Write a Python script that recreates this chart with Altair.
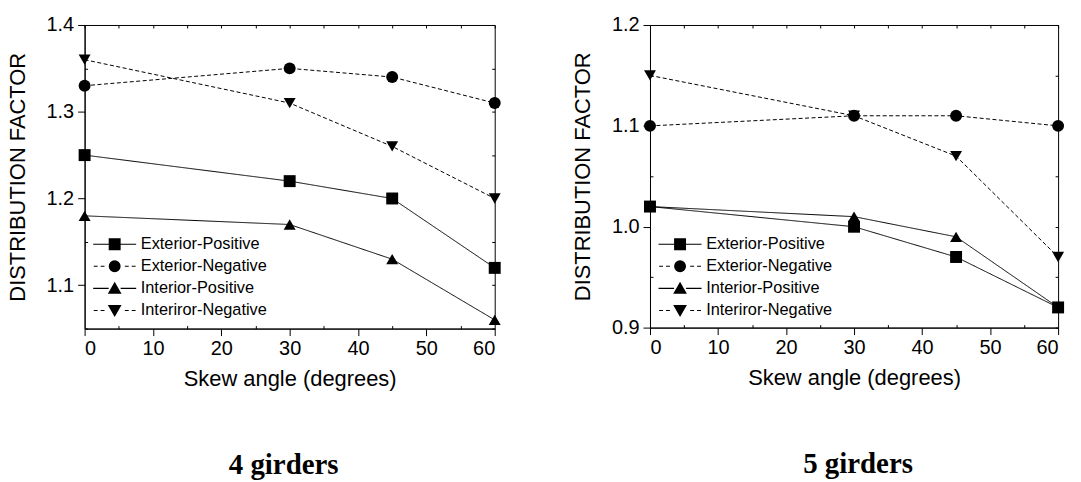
import altair as alt
import pandas as pd

angles = [0, 30, 45, 60]
series_names = ["Exterior-Positive", "Exterior-Negative", "Interior-Positive", "Interiror-Negative"]

# 4 girders
g4_ext_pos = [1.25, 1.22, 1.20, 1.12]
g4_ext_neg = [1.33, 1.35, 1.34, 1.31]
g4_int_pos = [1.18, 1.17, 1.13, 1.06]
g4_int_neg = [1.36, 1.31, 1.26, 1.20]

# 5 girders
g5_ext_pos = [1.02, 1.00, 0.97, 0.92]
g5_ext_neg = [1.10, 1.11, 1.11, 1.10]
g5_int_pos = [1.02, 1.01, 0.99, 0.92]
g5_int_neg = [1.15, 1.11, 1.07, 0.97]

x_ticks = [0, 10, 20, 30, 40, 50, 60]
x_minor = [5, 15, 25, 35, 45, 55]
x_all = [0, 5, 10, 15, 20, 25, 30, 35, 40, 45, 50, 55, 60]
g4_y_ticks = [1.1, 1.2, 1.3, 1.4]
g4_y_minor = [1.05, 1.15, 1.25, 1.35]
g4_y_all = [1.05, 1.1, 1.15, 1.2, 1.25, 1.3, 1.35, 1.4]
g5_y_ticks = [0.9, 1.0, 1.1, 1.2]
g5_y_minor = [0.95, 1.05, 1.15]
g5_y_all = [0.9, 0.95, 1.0, 1.05, 1.1, 1.15, 1.2]

DASH_RANGE = [[1, 0], [4, 2.5], [1, 0], [4, 2.5]]
SHAPES = ["square", "circle", "triangle-up", "triangle-down"]


# ---- legend glyphs (line - marker - line), drawn as filled symbol paths ----
def _bar(x0, x1, h=0.09):
    return f"M{x0},{-h}L{x1},{-h}L{x1},{h}L{x0},{h}Z"


SOLID_ARMS = _bar(-3.6, -1.0) + _bar(1.0, 3.6)
DASH_ARMS = "".join(_bar(a, b) for a, b in [(-3.5, -2.85), (-2.35, -1.7), (1.7, 2.35), (2.85, 3.5)])
SQUARE_P = "M-1,-1L1,-1L1,1L-1,1Z"
CIRCLE_P = ("M1,0L0.924,0.383L0.707,0.707L0.383,0.924L0,1L-0.383,0.924L-0.707,0.707L-0.924,0.383"
            "L-1,0L-0.924,-0.383L-0.707,-0.707L-0.383,-0.924L0,-1L0.383,-0.924L0.707,-0.707L0.924,-0.383Z")
TRI_UP_P = "M0,-1.1L1.15,0.9L-1.15,0.9Z"
TRI_DN_P = "M0,1.1L1.15,-0.9L-1.15,-0.9Z"
LEG_PATHS = [SOLID_ARMS + SQUARE_P, DASH_ARMS + CIRCLE_P, SOLID_ARMS + TRI_UP_P, DASH_ARMS + TRI_DN_P]


def long_df(vals):
    rows = []
    for name, ys in zip(series_names, vals):
        for a, v in zip(angles, ys):
            rows.append({"angle": a, "df": v, "series": name, "key": name})
    return pd.DataFrame(rows)


LEG_DEF = dict(
    title=None, orient="none", legendX=6, legendY=212, symbolSize=144,
    symbolOffset=16, labelOffset=18, labelFont="Liberation Sans", labelFontSize=16.4,
    labelColor="black", symbolOpacity=1, symbolFillColor="black",
    symbolStrokeColor="black", symbolStrokeWidth=0, rowPadding=5.2, padding=0,
    labelLimit=300,
)


def panel(df, ydom, yvals, yminor, yall, title, width, height, dx):
    xs = alt.Scale(domain=[0, 60], nice=False)
    ys = alt.Scale(domain=ydom, nice=False, zero=False)
    x = alt.X("angle:Q", scale=xs,
              axis=alt.Axis(values=x_ticks, title="Skew angle (degrees)", format="d"))
    y = alt.Y("df:Q", scale=ys,
              axis=alt.Axis(values=yvals, format=".1f", title="DISTRIBUTION FACTOR"))
    xn = alt.X("angle:Q", scale=xs, axis=None)
    yn = alt.Y("df:Q", scale=ys, axis=None)

    lines = alt.Chart(df).mark_line(color="black", strokeWidth=1).encode(
        x=x, y=y, detail="series:N",
        strokeDash=alt.StrokeDash("series:N", scale=alt.Scale(domain=series_names, range=DASH_RANGE),
                                  legend=None),
    )
    pts = alt.Chart(df).mark_point(filled=True, color="black", size=144, opacity=1).encode(
        x=xn, y=yn,
        shape=alt.Shape("series:N", scale=alt.Scale(domain=series_names, range=SHAPES), legend=None),
    )
    leg = alt.Chart(df).mark_point(filled=True, color="black", opacity=0, size=144).encode(
        x=xn, y=yn,
        shape=alt.Shape("key:N", scale=alt.Scale(domain=series_names, range=LEG_PATHS),
                        legend=alt.Legend(**LEG_DEF)),
    )
    # frame ticks: inward ticks on top/right, inward minor ticks on bottom/left
    frame_top = alt.Chart(df).mark_point(opacity=0).encode(
        x=alt.X("angle:Q", scale=xs, axis=alt.Axis(orient="top", values=x_all, labels=False, domain=False,
                                                   title=None, tickSize=3, offset=-3)),
        y=alt.Y("df:Q", scale=ys, axis=alt.Axis(orient="right", values=yall, labels=False, domain=False,
                                                title=None, tickSize=3, offset=-3)),
    )
    frame_minor = alt.Chart(df).mark_point(opacity=0).encode(
        x=alt.X("angle:Q", scale=xs, axis=alt.Axis(orient="bottom", values=x_minor, labels=False, domain=False,
                                                   title=None, tickSize=3, offset=-3)),
        y=alt.Y("df:Q", scale=ys, axis=alt.Axis(orient="left", values=yminor, labels=False, domain=False,
                                                title=None, tickSize=3, offset=-3)),
    )
    return alt.layer(lines, pts, leg, frame_top, frame_minor).resolve_scale(
        shape="independent", strokeDash="independent", x="independent", y="independent"
    ).resolve_axis(x="independent", y="independent").properties(
        width=width, height=height,
        title=alt.TitleParams(title, orient="bottom", anchor="middle", frame="group",
                              font="Liberation Serif", fontSize=29, fontWeight="bold",
                              color="black", offset=62, dx=dx),
    )


left = panel(long_df([g4_ext_pos, g4_ext_neg, g4_int_pos, g4_int_neg]), [1.05, 1.4],
             g4_y_ticks, g4_y_minor, g4_y_all, "4 girders", 412, 305, -6)
right = panel(long_df([g5_ext_pos, g5_ext_neg, g5_int_pos, g5_int_neg]), [0.9, 1.2],
              g5_y_ticks, g5_y_minor, g5_y_all, "5 girders", 410, 304, 4)

chart = alt.hconcat(left, right, spacing=53).resolve_scale(
    shape="independent", strokeDash="independent"
).properties(
    padding={"left": 5, "top": 13, "right": 0, "bottom": 0}
).configure_view(stroke="black", strokeWidth=1).configure_axis(
    domainColor="black", tickColor="black", labelColor="black", titleColor="black",
    labelFont="Liberation Sans", titleFont="Liberation Sans", labelFontSize=20, titleFontSize=22,
    titleFontWeight="normal", grid=False, tickSize=7,
).configure_axisY(titlePadding=17, labelPadding=4).configure_axisX(titlePadding=10, labelPadding=3)

chart.save("out.html", embed_options={"renderer": "svg", "actions": False})
